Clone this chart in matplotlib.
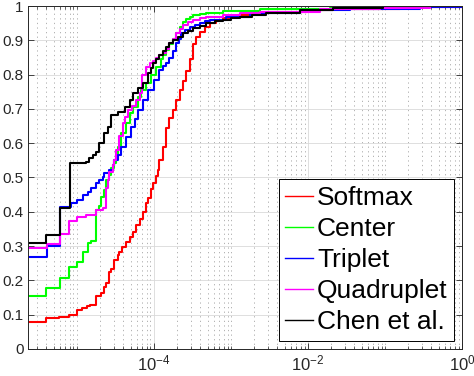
import matplotlib
matplotlib.use('Agg')
import matplotlib.pyplot as plt
import numpy as np
from matplotlib.ticker import LogLocator, FixedLocator, NullFormatter

plt.rcParams['font.family'] = ['Liberation Sans', 'DejaVu Sans']
plt.rcParams['mathtext.fontset'] = 'custom'
plt.rcParams['mathtext.rm'] = 'Liberation Sans'
plt.rcParams['mathtext.default'] = 'regular'

# x values stored as log10(FAR), y values are the curve heights
labels = ['Softmax', 'Center', 'Triplet', 'Quadruplet', 'Chen et al.']
colors = ['#ff0000', '#00ff00', '#0000ff', '#ff00ff', '#000000']

softmax_logx = [-5.63, -5.396, -5.227, -5.097, -5.006, -4.929, -4.864, -4.825, -4.747,
                -4.686, -4.643, -4.621, -4.578, -4.556, -4.513, -4.470, -4.448, -4.413,
                -4.361, -4.318, -4.275, -4.231, -4.188, -4.145, -4.101, -4.081, -4.036,
                -4.016, -3.971, -3.951, -3.929, -3.886, -3.842, -3.799, -3.756, -3.712,
                -3.669, -3.626, -3.582, -3.539, -3.496, -3.452, -3.409, -3.344, -3.279,
                -3.192, -3.106, -3.019, -2.929, -2.760, -2.630, -2.019, -1.682, -0.812, 0.0]
softmax_y = [0.078, 0.091, 0.094, 0.099, 0.114, 0.119, 0.124, 0.127, 0.155,
             0.164, 0.182, 0.191, 0.225, 0.232, 0.259, 0.274, 0.284, 0.298,
             0.313, 0.325, 0.340, 0.360, 0.380, 0.400, 0.425, 0.440, 0.465,
             0.485, 0.505, 0.522, 0.550, 0.590, 0.645, 0.672, 0.697, 0.725,
             0.755, 0.780, 0.810, 0.845, 0.890, 0.910, 0.925, 0.940, 0.950,
             0.958, 0.964, 0.970, 0.974, 0.978, 0.982, 0.988, 0.991, 0.998, 1.0]

center_logx = [-5.63, -5.396, -5.214, -5.097, -5.003, -4.925, -4.851, -4.816, -4.747,
               -4.708, -4.682, -4.643, -4.621, -4.578, -4.552, -4.513, -4.487, -4.468,
               -4.426, -4.361, -4.318, -4.275, -4.210, -4.166, -4.101, -4.036, -3.971,
               -3.906, -3.877, -3.842, -3.799, -3.756, -3.712, -3.669, -3.626, -3.582,
               -3.539, -3.496, -3.409, -3.322, -3.106, -2.630, -1.721, -0.812, 0.0]
center_y = [0.155, 0.177, 0.206, 0.239, 0.254, 0.284, 0.310, 0.316, 0.405,
            0.418, 0.444, 0.464, 0.493, 0.507, 0.527, 0.541, 0.561, 0.590,
            0.630, 0.660, 0.687, 0.706, 0.735, 0.755, 0.775, 0.799, 0.823,
            0.845, 0.858, 0.872, 0.888, 0.905, 0.922, 0.940, 0.952, 0.962,
            0.968, 0.974, 0.978, 0.981, 0.985, 0.990, 0.995, 0.999, 1.0]

triplet_logx = [-5.63, -5.387, -5.221, -5.084, -4.994, -4.925, -4.860, -4.816, -4.751,
                -4.708, -4.665, -4.643, -4.578, -4.535, -4.513, -4.470, -4.426, -4.361,
                -4.296, -4.253, -4.210, -4.145, -4.081, -3.994, -3.929, -3.886, -3.842,
                -3.799, -3.756, -3.712, -3.682, -3.647, -3.604, -3.539, -3.474, -3.409,
                -3.344, -3.279, -3.062, -2.760, -2.110, -1.461, -0.552, 0.0]
triplet_y = [0.267, 0.300, 0.415, 0.425, 0.434, 0.449, 0.459, 0.468, 0.483,
             0.493, 0.500, 0.512, 0.522, 0.536, 0.551, 0.566, 0.590, 0.619,
             0.648, 0.670, 0.697, 0.726, 0.755, 0.784, 0.813, 0.824, 0.835,
             0.848, 0.870, 0.891, 0.905, 0.920, 0.930, 0.940, 0.945, 0.950,
             0.955, 0.959, 0.969, 0.979, 0.987, 0.992, 0.998, 1.0]

quad_logx = [-5.63, -5.387, -5.214, -5.097, -5.006, -4.881, -4.751, -4.656, -4.623,
             -4.600, -4.578, -4.535, -4.513, -4.491, -4.448, -4.404, -4.383, -4.344,
             -4.292, -4.231, -4.188, -4.156, -4.101, -4.058, -4.016, -3.971, -3.929,
             -3.886, -3.842, -3.799, -3.756, -3.712, -3.669, -3.626, -3.565, -3.496,
             -3.409, -3.322, -3.106, -2.890, -2.630, -1.851, -1.071, -0.422, 0.0]
quad_y = [0.295, 0.305, 0.334, 0.373, 0.386, 0.392, 0.404, 0.410, 0.470,
          0.493, 0.515, 0.535, 0.551, 0.580, 0.620, 0.660, 0.677, 0.697,
          0.708, 0.726, 0.745, 0.800, 0.823, 0.833, 0.840, 0.848, 0.856,
          0.864, 0.876, 0.891, 0.905, 0.920, 0.933, 0.945, 0.952, 0.959,
          0.964, 0.969, 0.974, 0.979, 0.982, 0.990, 0.995, 0.999, 1.0]

chen_logx = [-5.63, -5.396, -5.214, -5.091, -4.881, -4.838, -4.797, -4.751, -4.708,
             -4.643, -4.600, -4.556, -4.470, -4.383, -4.318, -4.275, -4.210, -4.145,
             -4.081, -4.045, -4.016, -3.971, -3.929, -3.886, -3.842, -3.799, -3.756,
             -3.695, -3.626, -3.565, -3.496, -3.409, -3.322, -3.214, -3.106, -3.006,
             -2.890, -2.734, -2.543, -2.110, -1.682, -1.032, 0.0]
chen_y = [0.310, 0.333, 0.410, 0.541, 0.546, 0.556, 0.566, 0.574, 0.600,
          0.629, 0.648, 0.682, 0.692, 0.706, 0.726, 0.745, 0.760, 0.775,
          0.804, 0.820, 0.833, 0.845, 0.857, 0.870, 0.881, 0.891, 0.900,
          0.910, 0.920, 0.928, 0.935, 0.943, 0.950, 0.955, 0.959, 0.964,
          0.969, 0.974, 0.979, 0.988, 0.993, 0.999, 1.0]

series = [(softmax_logx, softmax_y), (center_logx, center_y), (triplet_logx, triplet_y),
          (quad_logx, quad_y), (chen_logx, chen_y)]

fig = plt.figure(figsize=(4.74, 3.76), dpi=100)
ax = fig.add_axes([0.060, 0.072, 0.915, 0.912])

for (lx, ys), lab, col in zip(series, labels, colors):
    ax.step(10 ** np.array(lx), ys, where='post', color=col, lw=1.5, label=lab)

ax.set_xscale('log')
ax.set_xlim(10 ** -5.63, 1)
ax.set_ylim(0, 1)

ax.xaxis.set_major_locator(FixedLocator([1e-4, 1e-2, 1e0]))
ax.xaxis.set_minor_locator(LogLocator(base=10, subs=np.arange(1, 10), numticks=20))
ax.xaxis.set_minor_formatter(NullFormatter())
ax.set_yticks(np.arange(0, 1.01, 0.1))
ax.set_yticklabels(['0', '0.1', '0.2', '0.3', '0.4', '0.5', '0.6', '0.7', '0.8', '0.9', '1'])

dark = '#262626'
ax.tick_params(which='both', direction='in', top=True, right=True, colors=dark,
               labelsize=11, labelcolor=dark)
ax.tick_params(axis='x', which='major', labelsize=12)
ax.tick_params(which='major', length=4, width=0.6)
ax.tick_params(which='minor', length=2.5, width=0.5)
for s in ax.spines.values():
    s.set_color(dark)
    s.set_linewidth(0.7)

ax.grid(True, which='major', color='#d9d9d9', lw=0.6, ls='-')
ax.grid(True, which='minor', axis='x', color='#a6a6a6', lw=0.6, ls=(0, (1.5, 4)))
ax.set_axisbelow(True)

leg = ax.legend(loc='lower right', bbox_to_anchor=(0.982, 0.023), borderaxespad=0,
                fontsize=19, handlelength=1.05, handletextpad=0.15, labelspacing=0.27,
                borderpad=0.25, fancybox=False, framealpha=1)
leg.get_frame().set_edgecolor('black')
leg.get_frame().set_linewidth(0.7)
for line in leg.get_lines():
    line.set_linewidth(1.0)

fig.savefig('out.png', dpi=100)
